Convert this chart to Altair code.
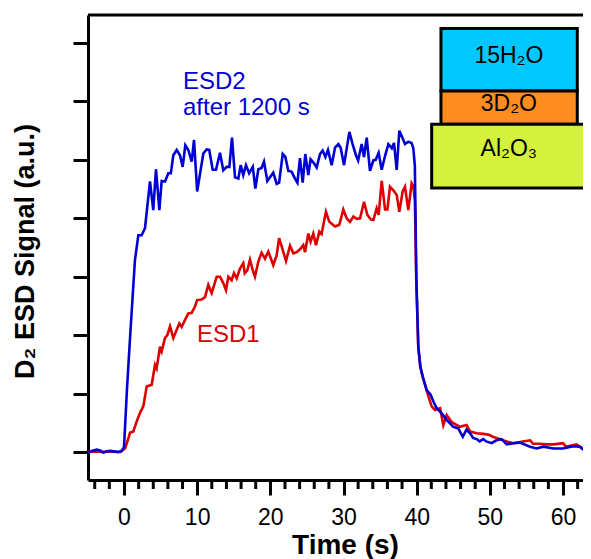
import altair as alt
import pandas as pd

# ---- data ----
t_esd2 = [-4.9, -4.3, -3.7, -3.2, -2.8, -2.3, -1.9, -1.4, -0.8, -0.3, 0.0, 0.4, 0.8, 1.2, 1.5,
          1.96, 2.41, 2.87, 3.55, 4.0, 4.37, 4.83, 5.15, 5.6, 6.06, 6.4, 6.74, 7.2, 7.65, 8.02,
          8.38, 8.79, 9.25, 9.57, 10.0, 10.84, 11.3, 11.65, 12.12, 12.57, 13.12, 13.57, 14.03,
          14.4, 14.76, 15.17, 15.63, 15.95, 16.3, 16.67, 17.1, 17.6, 17.95, 18.36, 18.8, 19.13,
          19.59, 20.0, 20.4, 20.87, 21.2, 21.69, 22.05, 22.46, 22.9, 23.37, 23.7, 24.05, 24.42,
          24.78, 25.19, 25.5, 25.97, 26.33, 26.79, 27.15, 27.52, 27.88, 28.38, 28.84, 29.3, 29.6,
          30.07, 30.8, 31.24, 31.7, 32.0, 32.48, 32.8, 33.17, 33.62, 34.08, 34.4, 34.8, 35.22,
          35.68, 36.13, 36.6, 36.9, 37.27, 37.63, 38.08, 38.4, 38.86, 39.3, 39.54, 39.75, 39.95,
          40.22, 40.5, 40.82, 41.37, 41.9, 42.3, 42.73, 43.42, 44.1, 45.0, 45.7, 46.3, 46.8, 47.3,
          47.7, 48.2, 48.6, 49.1, 49.5, 50.25, 50.9, 51.6, 52.3, 53.2, 54.1, 55.5, 56.4, 57.3,
          58.7, 60.0, 61.4, 62.3, 63.0, 63.7]
v_esd2 = [-0.01, 0.02, 0.04, 0.02, -0.01, 0.01, 0.02, 0.01, 0.0, 0.02, 0.08, 1.06, 1.9, 2.7, 3.29,
          3.71, 3.71, 3.83, 4.63, 4.14, 4.84, 4.14, 4.64, 4.63, 4.77, 4.77, 5.08, 5.17, 5.08, 4.88,
          5.25, 5.17, 4.97, 5.34, 4.46, 5.11, 5.18, 5.17, 4.83, 4.83, 5.12, 4.82, 4.88,
          4.88, 5.38, 4.70, 4.68, 4.91, 4.74, 4.91, 4.77, 4.88, 4.51, 4.84, 4.86, 4.97,
          4.64, 4.71, 4.78, 4.59, 4.61, 5.10, 5.05, 4.81, 4.80, 4.68, 4.61, 5.03, 4.61,
          5.10, 4.74, 5.01, 4.94, 4.87, 5.10, 5.16, 5.05, 5.17, 4.91, 5.21, 5.27, 5.21,
          4.91, 5.48, 5.27, 5.08, 4.99, 5.27, 5.05, 5.38, 4.81, 4.99, 5.0, 5.12, 4.83,
          5.07, 5.27, 5.20, 5.29, 4.83, 5.50, 5.37, 5.27, 5.31, 5.29, 5.20, 4.9, 3.0,
          1.8, 1.46, 1.29, 1.06, 0.98, 0.86, 0.75, 0.66, 0.55, 0.43, 0.40, 0.26, 0.38, 0.32,
          0.24, 0.22, 0.18, 0.22, 0.18, 0.15, 0.2, 0.22, 0.13, 0.15, 0.16, 0.09, 0.06, 0.09,
          0.06, 0.06, 0.10, 0.09, 0.02, -0.01]

t_esd1 = [-4.9, -4.0, -3.0, -2.0, -1.0, -0.5, 0.14, 0.59, 0.82, 1.27, 1.73, 2.19, 2.64, 3.1, 3.78,
          4.24, 4.46, 4.92, 5.15, 5.6, 5.92, 6.29, 6.74, 7.2, 7.56, 7.88, 8.34, 8.79, 9.25, 9.7,
          10.0, 10.6, 11.07, 11.52, 11.98, 12.67, 13.12, 13.57, 13.94, 14.26, 14.71, 15.03, 15.4,
          15.85, 16.3, 16.5, 16.85, 17.22, 17.6, 17.9, 18.36, 18.8, 19.27, 19.72, 20.4, 20.87,
          21.2, 21.69, 22.14, 22.69, 23.15, 23.6, 24.05, 24.5, 24.74, 25.19, 25.5, 25.87, 26.24,
          26.7, 27.0, 27.6, 28.06, 28.84, 29.43, 29.97, 30.43, 30.89, 31.35, 31.8, 32.26, 32.8,
          33.26, 33.72, 34.08, 34.53, 34.8, 35.22, 35.68, 36.0, 36.35, 36.81, 37.27, 37.63, 38.08,
          38.4, 38.86, 39.31, 39.54, 39.75, 39.95, 40.22, 40.5, 40.82, 41.6, 42.05, 42.5, 43.2,
          43.64, 44.1, 44.8, 45.5, 45.9, 46.8, 47.3, 48.2, 49.1, 50.0, 50.4, 51.4, 52.3, 53.2,
          54.5, 55.5, 55.9, 56.8, 57.7, 58.7, 60.0, 60.4, 61.8, 62.7, 63.7]
v_esd1 = [0.0, 0.01, 0.0, 0.01, 0.0, 0.0, 0.06, 0.23, 0.33, 0.35, 0.52, 0.67, 0.78, 1.12, 1.15,
          1.49, 1.43, 1.80, 1.72, 1.95, 2.0, 2.15, 1.95, 2.09, 2.2, 2.14, 2.26, 2.37, 2.38, 2.49,
          2.6, 2.61, 2.65, 2.86, 2.72, 3.0, 3.0, 2.89, 2.77, 3.0, 2.94, 3.06, 2.97,
          3.14, 3.23, 3.06, 3.11, 3.29, 3.11, 3.0, 3.26, 3.41, 3.31, 3.43, 3.2, 3.37,
          3.66, 3.46, 3.27, 3.53, 3.40, 3.42, 3.47, 3.54, 3.42, 3.74, 3.6, 3.74, 3.54,
          3.77, 3.73, 4.11, 3.94, 3.86, 3.89, 4.15, 4.0, 3.94, 4.03, 3.99, 4.0, 4.28,
          4.06, 3.98, 3.97, 4.17, 4.06, 4.64, 4.15, 4.15, 4.54, 4.48, 4.40, 4.11, 4.46,
          4.54, 4.14, 4.6, 4.55, 4.3, 2.9, 1.8, 1.46, 1.29, 0.95, 0.78, 0.72, 0.75,
          0.46, 0.63, 0.51, 0.46, 0.43, 0.46, 0.35, 0.32, 0.31, 0.29, 0.26, 0.22, 0.18, 0.15,
          0.18, 0.20, 0.14, 0.14, 0.13, 0.13, 0.15, 0.09, 0.13, 0.06, 0.04]

x_major_ticks = [0, 10, 20, 30, 40, 50, 60]
x_minor_ticks = [-4, -2, 2, 4, 6, 8, 12, 14, 16, 18, 22, 24, 26, 28, 32, 34, 36, 38,
                 42, 44, 46, 48, 52, 54, 56, 58, 62]
y_ticks = [0, 1, 2, 3, 4, 5, 6, 7]

label_text = ["ESD2", "after 1200 s", "ESD1"]
label_t = [8.06, 8.06, 9.98]
label_v = [6.21, 5.77, 1.88]
label_color = ["#0000D4", "#0000D4", "#DC0000"]

box_x1 = [43.32, 43.32, 42.05]
box_x2 = [61.95, 61.95, 63.55]
box_y1 = [7.25, 6.18, 5.61]
box_y2 = [6.18, 5.61, 4.52]
box_fill = ["#00C8FF", "#FF8C1E", "#D4F23C"]
box_text = ["15H\u2082O", "3D\u2082O", "Al\u2082O\u2083"]
box_text_t = [52.6, 52.6, 52.6]
box_text_v = [6.66, 5.84, 5.07]

FONT = "Liberation Sans, Arial, Helvetica, sans-serif"
W, H = 495, 465

df1 = pd.DataFrame({"t": t_esd1, "v": v_esd1})
df2 = pd.DataFrame({"t": t_esd2, "v": v_esd2})
dlab = pd.DataFrame({"text": label_text, "t": label_t, "v": label_v, "c": label_color})
dbox = pd.DataFrame({"x1": box_x1, "x2": box_x2, "y1": box_y1, "y2": box_y2, "fill": box_fill})
dbt = pd.DataFrame({"text": box_text, "t": box_text_t, "v": box_text_v})
dminor = pd.DataFrame({"t": x_minor_ticks})

xs = alt.Scale(domain=[-4.92, 62.73], nice=False, zero=False)
ys = alt.Scale(domain=[-0.48, 7.48], nice=False, zero=False)

x_axis = alt.Axis(
    orient="bottom", values=x_major_ticks, tickSize=15, tickWidth=3, tickColor="black",
    domainWidth=3, domainColor="black", grid=False,
    labelFont=FONT, labelFontSize=23, labelColor="black", labelBaseline="alphabetic",
    labelPadding=29, labelFlush=False,
    title="Time (s)", titleFont=FONT, titleFontSize=28, titleFontWeight="bold",
    titleColor="black", titleBaseline="alphabetic", titleX=257, titleY=73,
)
y_axis = alt.Axis(
    orient="left", values=y_ticks, tickSize=15, tickWidth=3, tickColor="black",
    domainWidth=3, domainColor="black", labels=False, grid=False,
    title="D\u2082 ESD Signal (a.u.)", titleFont=FONT, titleFontSize=27, titleFontWeight="bold",
    titleColor="black", titleAngle=270, titleBaseline="alphabetic", titleAlign="center",
    titleX=-55, titleY=236,
)

X = lambda f: alt.X(f, scale=xs, axis=x_axis)
Y = lambda f: alt.Y(f, scale=ys, axis=y_axis)

red = alt.Chart(df1).mark_line(color="#DC0000", strokeWidth=2.6).encode(x=X("t:Q"), y=Y("v:Q"))
blue = alt.Chart(df2).mark_line(color="#0000D4", strokeWidth=2.6).encode(x=X("t:Q"), y=Y("v:Q"))
minor = alt.Chart(dminor).mark_rule(color="black", strokeWidth=3).encode(
    x=X("t:Q"), y=alt.value(H), y2=alt.value(H + 9)
)
labels = alt.Chart(dlab).mark_text(align="left", baseline="alphabetic", font=FONT, fontSize=24).encode(
    x=X("t:Q"), y=Y("v:Q"), text="text:N", color=alt.Color("c:N", scale=None),
)
boxes = alt.Chart(dbox).mark_rect(stroke="black", strokeWidth=3).encode(
    x=X("x1:Q"), x2="x2:Q", y=Y("y1:Q"), y2="y2:Q", fill=alt.Fill("fill:N", scale=None),
)
box_labels = alt.Chart(dbt).mark_text(align="center", baseline="alphabetic", font=FONT,
                                      fontSize=23, color="black").encode(
    x=X("t:Q"), y=Y("v:Q"), text="text:N",
)
top_border = alt.Chart(pd.DataFrame({"a": [0]})).mark_rule(color="black", strokeWidth=3).encode(
    x=alt.value(0), x2=alt.value(W), y=alt.value(0)
)

chart = (
    alt.layer(red, blue, minor, labels, boxes, box_labels, top_border)
    .properties(
        width=W, height=H,
        autosize=alt.AutoSizeParams(type="none"),
        padding={"left": 80, "top": 7, "right": 0, "bottom": 79},
        background="white",
    )
    .configure_view(stroke=None)
)

chart.save("out.html", embed_options={"renderer": "svg", "actions": False})
